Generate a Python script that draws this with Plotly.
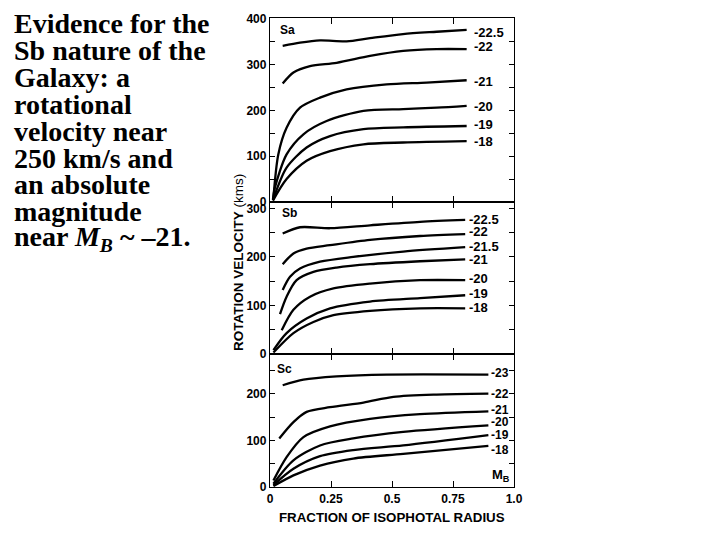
import plotly.graph_objects as go

# ---------------- data ----------------
# Sa panel
sa_m225_x = [0.052, 0.123, 0.205, 0.314, 0.41, 0.545, 0.683, 0.806]
sa_m225_v = [341, 348, 353, 351, 358, 367, 372, 376]
sa_m22_x = [0.052, 0.096, 0.164, 0.273, 0.41, 0.546, 0.683, 0.806]
sa_m22_v = [259, 283, 297, 304, 319, 330, 334, 334]
sa_m21_x = [0.014, 0.034, 0.068, 0.123, 0.205, 0.314, 0.478, 0.642, 0.806]
sa_m21_v = [9, 104, 162, 206, 228, 246, 257, 261, 266]
sa_m20_x = [0.012, 0.02, 0.068, 0.137, 0.232, 0.383, 0.546, 0.683, 0.806]
sa_m20_v = [5, 31, 104, 148, 177, 199, 203, 206, 210]
sa_m19_x = [0.012, 0.068, 0.15, 0.246, 0.383, 0.546, 0.806]
sa_m19_v = [4, 75, 119, 144, 159, 163, 166]
sa_m18_x = [0.012, 0.068, 0.15, 0.246, 0.383, 0.546, 0.806]
sa_m18_v = [3, 50, 90, 111, 126, 130, 133]

# Sb panel
sb_m225_x = [0.052, 0.123, 0.246, 0.41, 0.615, 0.80]
sb_m225_v = [248, 261, 259, 265, 272, 276]
sb_m22_x = [0.052, 0.096, 0.15, 0.246, 0.41, 0.615, 0.80]
sb_m22_v = [185, 207, 217, 224, 235, 243, 247]
sb_m215_x = [0.052, 0.082, 0.123, 0.205, 0.341, 0.546, 0.80]
sb_m215_v = [132, 159, 176, 190, 200, 211, 220]
sb_m21_x = [0.041, 0.068, 0.109, 0.178, 0.273, 0.41, 0.615, 0.80]
sb_m21_v = [82, 118, 152, 169, 178, 185, 191, 195]
sb_m20_x = [0.048, 0.096, 0.164, 0.26, 0.41, 0.615, 0.80]
sb_m20_v = [49, 91, 118, 135, 145, 152, 152]
sb_m19_x = [0.014, 0.068, 0.15, 0.246, 0.41, 0.615, 0.80]
sb_m19_v = [8, 43, 73, 94, 108, 115, 121]
sb_m18_x = [0.014, 0.096, 0.178, 0.26, 0.41, 0.615, 0.80]
sb_m18_v = [3, 43, 66, 80, 89, 94, 94]

# Sc panel
sc_m23_x = [0.052, 0.137, 0.273, 0.478, 0.895]
sc_m23_v = [218, 230, 237, 241, 241]
sc_m22_x = [0.038, 0.096, 0.15, 0.246, 0.383, 0.506, 0.683, 0.895]
sc_m22_v = [104, 139, 161, 171, 181, 193, 198, 200]
sc_m21_x = [0.014, 0.068, 0.137, 0.246, 0.41, 0.615, 0.895]
sc_m21_v = [14, 64, 107, 130, 146, 156, 162]
sc_m20_x = [0.014, 0.096, 0.205, 0.341, 0.546, 0.895]
sc_m20_v = [7, 57, 89, 104, 118, 132]
sc_m19_x = [0.014, 0.096, 0.205, 0.341, 0.546, 0.895]
sc_m19_v = [4, 39, 66, 79, 89, 111]
sc_m18_x = [0.014, 0.096, 0.205, 0.341, 0.546, 0.895]
sc_m18_v = [2, 25, 46, 61, 71, 88]

sa_labels = ["-22.5", "-22", "-21", "-20", "-19", "-18"]
sa_label_v = [370, 339, 264, 209, 170, 133]
sb_labels = ["-22.5", "-22", "-21.5", "-21", "-20", "-19", "-18"]
sb_label_v = [277, 252, 222, 195, 156, 125, 96]
sc_labels = ["-23", "-22", "-21", "-20", "-19", "-18"]
sc_label_v = [244, 200, 164, 139, 111, 80]

x_ticks = [0, 0.25, 0.5, 0.75, 1.0]
x_tick_text = ["0", "0.25", "0.5", "0.75", "1.0"]

# ---------------- figure ----------------
W, H = 704, 524
OFF = 8  # page margin around the plot

def xp(p):  # target pixel column -> paper x
    return (p - OFF) / W

def yp(p):  # target pixel row -> paper y
    return 1 - (p - OFF) / H

x_dom = [xp(270), xp(514)]
sa_dom = [yp(202), yp(18)]
sb_dom = [yp(354), yp(202)]
sc_dom = [yp(487), yp(354)]

fig = go.Figure()

line = dict(color="black", width=2.3, shape="spline", smoothing=0.8)

sa = [(sa_m225_x, sa_m225_v), (sa_m22_x, sa_m22_v), (sa_m21_x, sa_m21_v),
      (sa_m20_x, sa_m20_v), (sa_m19_x, sa_m19_v), (sa_m18_x, sa_m18_v)]
sb = [(sb_m225_x, sb_m225_v), (sb_m22_x, sb_m22_v), (sb_m215_x, sb_m215_v),
      (sb_m21_x, sb_m21_v), (sb_m20_x, sb_m20_v), (sb_m19_x, sb_m19_v),
      (sb_m18_x, sb_m18_v)]
sc = [(sc_m23_x, sc_m23_v), (sc_m22_x, sc_m22_v), (sc_m21_x, sc_m21_v),
      (sc_m20_x, sc_m20_v), (sc_m19_x, sc_m19_v), (sc_m18_x, sc_m18_v)]

for (xs, vs) in sa:
    fig.add_trace(go.Scatter(x=xs, y=vs, mode="lines", line=line, xaxis="x", yaxis="y", showlegend=False))
for (xs, vs) in sb:
    fig.add_trace(go.Scatter(x=xs, y=vs, mode="lines", line=line, xaxis="x2", yaxis="y2", showlegend=False))
for (xs, vs) in sc:
    fig.add_trace(go.Scatter(x=xs, y=vs, mode="lines", line=line, xaxis="x3", yaxis="y3", showlegend=False))

tickfont = dict(family="Liberation Sans, Arial", size=12, color="black")

def yaxis(dom, rng, top, anchor):
    vals = list(range(0, top + 1, 50))
    txt = ["<b>%d</b>" % v if v % 100 == 0 else "" for v in vals]
    return dict(domain=dom, range=rng, anchor=anchor, showline=True, linecolor="black",
                linewidth=1.3, mirror="ticks", ticks="inside", ticklen=5, tickcolor="black",
                tickvals=vals, ticktext=txt, tickfont=tickfont, showgrid=False,
                zeroline=False, fixedrange=True)

def xaxis(dom, anchor, labels):
    return dict(domain=dom, range=[0, 1.0], anchor=anchor, showline=True, linecolor="black",
                linewidth=1.3, mirror="ticks", ticks="inside", ticklen=6, tickcolor="black",
                tickvals=x_ticks, ticktext=["<b>%s</b>" % t for t in x_tick_text],
                showticklabels=labels, tickfont=tickfont, showgrid=False, zeroline=False)

fig.update_layout(
    width=W, height=H, margin=dict(l=0, r=0, t=0, b=0, autoexpand=False),
    paper_bgcolor="white", plot_bgcolor="white",
    xaxis=xaxis(x_dom, "y", False),
    yaxis=yaxis(sa_dom, [0, 402], 400, "x"),
    xaxis2=xaxis(x_dom, "y2", False),
    yaxis2=yaxis(sb_dom, [0, 313], 300, "x2"),
    xaxis3=xaxis(x_dom, "y3", True),
    yaxis3=yaxis(sc_dom, [0, 285], 250, "x3"),
)

lab_font = dict(family="Liberation Sans, Arial", size=13, color="black")
lab_font_sc = dict(family="Liberation Sans, Arial", size=12, color="black")
ann = []
for t, v in zip(sa_labels, sa_label_v):
    ann.append(dict(x=0.826, y=v, xref="x", yref="y", text="<b>%s</b>" % t, showarrow=False,
                    xanchor="left", yanchor="middle", font=lab_font))
for t, v in zip(sb_labels, sb_label_v):
    ann.append(dict(x=0.808, y=v, xref="x2", yref="y2", text="<b>%s</b>" % t, showarrow=False,
                    xanchor="left", yanchor="middle", font=lab_font))
for t, v in zip(sc_labels, sc_label_v):
    ann.append(dict(x=0.898, y=v, xref="x3", yref="y3", text="<b>%s</b>" % t, showarrow=False,
                    xanchor="left", yanchor="middle", font=lab_font_sc))

panel_font = dict(family="Liberation Sans, Arial", size=12, color="black")
ann.append(dict(x=0.07, y=375, xref="x", yref="y", text="<b>Sa</b>", showarrow=False,
                xanchor="center", yanchor="middle", font=panel_font))
ann.append(dict(x=0.08, y=290, xref="x2", yref="y2", text="<b>Sb</b>", showarrow=False,
                xanchor="center", yanchor="middle", font=panel_font))
ann.append(dict(x=0.06, y=252, xref="x3", yref="y3", text="<b>Sc</b>", showarrow=False,
                xanchor="center", yanchor="middle", font=panel_font))
ann.append(dict(x=0.99, y=25, xref="x3", yref="y3", text="<b>M<sub>B</sub></b>", showarrow=False,
                xanchor="right", yanchor="middle",
                font=dict(family="Liberation Sans, Arial", size=13, color="black")))

# axis titles
ann.append(dict(x=xp(238), y=yp(263), xref="paper", yref="paper", textangle=-90,
                xanchor="center", yanchor="middle",
                text="<b>ROTATION VELOCITY</b> (kms)", showarrow=False,
                font=dict(family="Liberation Sans, Arial", size=13.5, color="black")))
ann.append(dict(x=xp(392), y=yp(517), xref="paper", yref="paper",
                xanchor="center", yanchor="middle",
                text="<b>FRACTION OF ISOPHOTAL RADIUS</b>", showarrow=False,
                font=dict(family="Liberation Sans, Arial", size=13.3, color="black")))

# left caption
caption = ["Evidence for the", "Sb nature of the", "Galaxy: a", "rotational",
           "velocity near", "250 km/s and", "an absolute", "magnitude",
           "near <i>M<sub>B</sub></i> ~ \u201321."]
for i, line_txt in enumerate(caption):
    ann.append(dict(x=xp(12), y=yp(23.5 + i * 26.9), xref="paper", yref="paper",
                    text="<b>%s</b>" % line_txt, showarrow=False, xanchor="left",
                    yanchor="middle",
                    font=dict(family="Liberation Serif, Times New Roman", size=28, color="black")))

fig.update_layout(annotations=ann)
fig.write_html("out.html")
